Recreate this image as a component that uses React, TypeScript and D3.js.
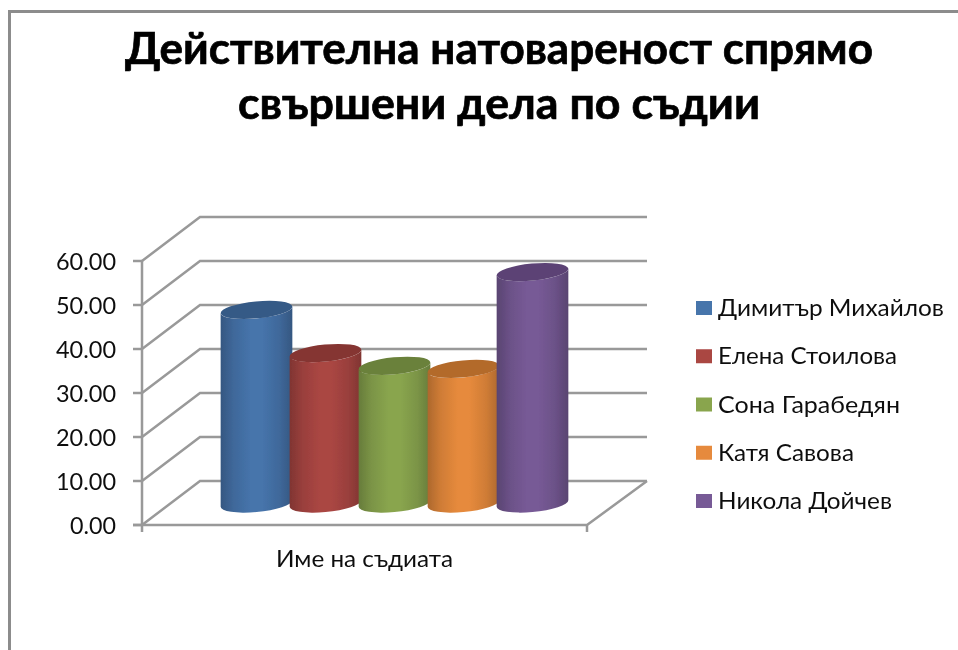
import React from "react";
import * as d3 from "d3";

const judges = ["Димитър Михайлов", "Елена Стоилова", "Сона Гарабедян", "Катя Савова", "Никола Дойчев"];
const workload = [44, 34.2, 31.3, 30.6, 52.6];
const yTicks = [0, 10, 20, 30, 40, 50, 60];
const colors = ["#4674AB", "#AA4643", "#89A54E", "#E68A3C", "#775A96"];
const topColors = ["#365A86", "#853431", "#6A813A", "#B36A2C", "#5B4374"];
const titleLines = ["Действителна натовареност спрямо", "свършени дела по съдии"];
const titleWidths = [748, 522];
const legendWidths = [226, 179, 182, 136, 174];
const xTitle = "Име на съдиата";
const FONT = "Lato, 'Open Sans', sans-serif";

const y = d3.scaleLinear().domain([0, 60]).range([525, 261]);
const x = d3.scaleBand<string>().domain(judges).range([222, 567]);
const legendY = d3.scalePoint<string>().domain(judges).range([308, 501]);
const depthX = 58, depthY = 44, frontL = 142, frontR = 587, backR = 647;
const barBase = 21.5;
const rx = 36, ry = 8.5, rot = (-5.5 * Math.PI) / 180;

function extreme() {
  const t = Math.atan(-(ry / rx) * Math.tan(rot));
  return {
    dx: Math.abs(rx * Math.cos(t) * Math.cos(rot) - ry * Math.sin(t) * Math.sin(rot)),
    dy: rx * Math.cos(t) * Math.sin(rot) + ry * Math.sin(t) * Math.cos(rot),
  };
}

export default function App() {
  const e = extreme();
  const deg = (rot * 180) / Math.PI;
  const gray = "#999999";
  return (
    <svg width={958} height={650} style={{ position: "absolute", left: 0, top: 0 }} fontFamily={FONT}>
      <defs>
        <filter id="soft" x="0" y="0" width="1" height="1" filterUnits="objectBoundingBox">
          <feGaussianBlur stdDeviation="0.5" />
        </filter>
        {colors.map((c, i) => {
          const dark = d3.color(c)!.darker(0.8).formatHex();
          const mid = d3.color(c)!.darker(0.3).formatHex();
          return (
            <linearGradient key={i} id={`g${i}`} x1="0" x2="1" y1="0" y2="0">
              <stop offset="0" stopColor={dark} />
              <stop offset="0.18" stopColor={mid} />
              <stop offset="0.42" stopColor={c} />
              <stop offset="0.58" stopColor={c} />
              <stop offset="0.82" stopColor={mid} />
              <stop offset="1" stopColor={dark} />
            </linearGradient>
          );
        })}
      </defs>
      <g filter="url(#soft)">
        <rect x={0} y={0} width={958} height={650} fill="#fff" />
        <path d="M9.5 650V11.5H958" fill="none" stroke="#8c8c8c" strokeWidth={3} />
        {titleLines.map((t, i) => (
          <text
            key={t}
            x={499}
            y={63.5 + i * 55}
            textAnchor="middle"
            fontSize={44}
            fontWeight={700}
            fill="#000"
            stroke="#000"
            strokeWidth={0.7}
            textLength={titleWidths[i]}
            lengthAdjust="spacingAndGlyphs"
          >
            {t}
          </text>
        ))}
        <g stroke={gray} strokeWidth={2.5} fill="none">
          {yTicks.map((v) => (
            <g key={v}>
              <path d={`M${frontL} ${y(v)}L${frontL + depthX} ${y(v) - depthY}H${backR}`} />
              <path d={`M${frontL - 9} ${y(v)}H${frontL}`} />
            </g>
          ))}
          <path d={`M${frontL} ${y(60)}V${y(0) + 7}`} />
          <path d={`M${frontL - 9} ${y(0)}H${frontR}L${backR} ${y(0) - depthY}`} />
          <path d={`M${frontR} ${y(0)}v7`} />
        </g>
        {yTicks.map((v) => {
          const label = d3.format(".2f")(v);
          const w = label.length === 5 ? 60 : 46;
          return (
            <text
              key={v}
              x={116 - w}
              y={y(v) + 1}
              dy="0.36em"
              fontSize={22.5}
              fill="#111"
              textLength={w}
              lengthAdjust="spacingAndGlyphs"
            >
              {label}
            </text>
          );
        })}
        {judges.map((j, i) => {
          const cx = x(j)! + x.bandwidth() / 2;
          const top = y(workload[i]) - barBase;
          const bot = y(0) - barBase;
          const body =
            `M${cx - e.dx} ${top - e.dy}L${cx - e.dx} ${bot - e.dy}` +
            `A${rx} ${ry} ${deg} 0 0 ${cx + e.dx} ${bot + e.dy}` +
            `L${cx + e.dx} ${top + e.dy}A${rx} ${ry} ${deg} 0 1 ${cx - e.dx} ${top - e.dy}Z`;
          return (
            <g key={j}>
              <path d={body} fill={`url(#g${i})`} />
              <ellipse
                cx={cx}
                cy={top}
                rx={rx}
                ry={ry}
                transform={`rotate(${deg} ${cx} ${top})`}
                fill={topColors[i]}
              />
            </g>
          );
        })}
        <text
          x={364.5}
          y={567}
          textAnchor="middle"
          fontSize={22.5}
          fill="#111"
          textLength={177}
          lengthAdjust="spacingAndGlyphs"
        >
          {xTitle}
        </text>
        {judges.map((j, i) => (
          <g key={j}>
            <rect x={696} y={legendY(j)! - 7} width={16} height={14} fill={colors[i]} />
            <text
              x={718}
              y={legendY(j)!}
              dy="0.36em"
              fontSize={22.5}
              fill="#111"
              textLength={legendWidths[i]}
              lengthAdjust="spacingAndGlyphs"
            >
              {j}
            </text>
          </g>
        ))}
      </g>
    </svg>
  );
}
